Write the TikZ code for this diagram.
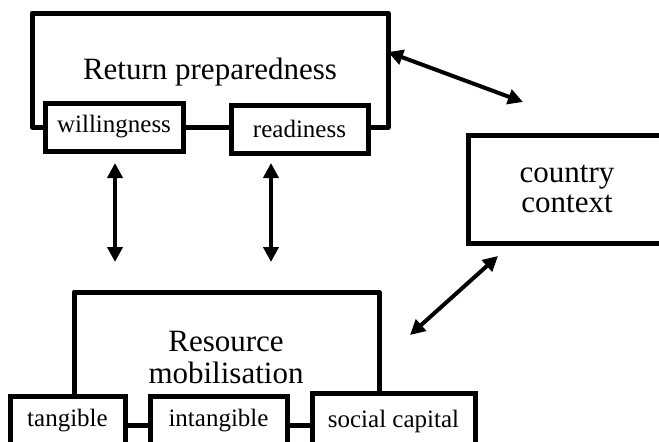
\documentclass[tikz,border=0pt]{standalone}
\usepackage{fontspec}
\setmainfont{Liberation Serif}
\usepackage{tikz}
\usetikzlibrary{arrows.meta,positioning}

\begin{document}
\begin{tikzpicture}[
  x=1pt, y=-1pt,
  frame/.style={line width=5pt, line join=round},
  subbox/.style={draw, line width=5pt, minimum height=48pt, inner sep=0pt, font=\fontsize{25}{28}\selectfont},
  label/.style={align=center, font=\fontsize{31}{31}\selectfont},
  arrow/.style={{Triangle[length=15pt,width=15pt]}-{Triangle[length=15pt,width=15pt]}, line width=4pt}
]
\useasboundingbox (0,0) rectangle (659,442);
\clip (0,0) rectangle (659,442);
% return preparedness
\node[label] (rp) at (210,72) {Return preparedness};
\node[subbox, minimum width=138pt] (will) at (114,127) {willingness};
\node[subbox, minimum width=137pt] (ready) at (299.5,129) {readiness};
\coordinate (rpnw) at (32,13);
\coordinate (rpne) at (388,13);
\draw[frame] (will.west) -| (rpnw) -- (rpne) |- (ready.east |- will.east);
\draw[frame] (will.east) -- (ready.west |- will.west);
% country context
\node[draw, line width=5pt, minimum width=198pt, minimum height=108pt, label,
      font=\fontsize{31}{30}\selectfont] (ctx) at (567,189) {country\\context};
% resource mobilisation
\node[label, font=\fontsize{31}{32}\selectfont] (rm) at (226,357) {Resource\\mobilisation};
\node[subbox, minimum width=115pt, minimum height=50pt] (tang) at (67.5,421) {tangible};
\node[subbox, minimum width=137pt, minimum height=50pt] (intang) at (218.5,421) {intangible};
\node[subbox, minimum width=163pt, minimum height=56pt] (soc) at (393.5,421) {social capital};
\coordinate (rmnw) at (74,292);
\coordinate (rmne) at (379,292);
\draw[frame] (tang.north -| rmnw) -- (rmnw) -- (rmne) -- (soc.north -| rmne);
\draw[frame] ([yshift=-4pt]tang.east) -- ([yshift=-4pt]intang.west);
\draw[frame] ([yshift=-4pt]intang.east) -- ([yshift=-4pt]soc.west);
% arrows
\coordinate (wl) at (115,163);
\coordinate (rml) at (115,262);
\coordinate (rd) at (271,163);
\coordinate (rmr) at (271,262);
\coordinate (ctxt) at (523,102);
\coordinate (ctxb) at (498,256);
\coordinate (rmx) at (410,335);
\draw[arrow] (wl) -- (rml);
\draw[arrow] (rd) -- (rmr);
\draw[arrow] (rpne |- 0,52) -- (ctxt);
\draw[arrow] (rmx) -- (ctxb);
\end{tikzpicture}
\end{document}
